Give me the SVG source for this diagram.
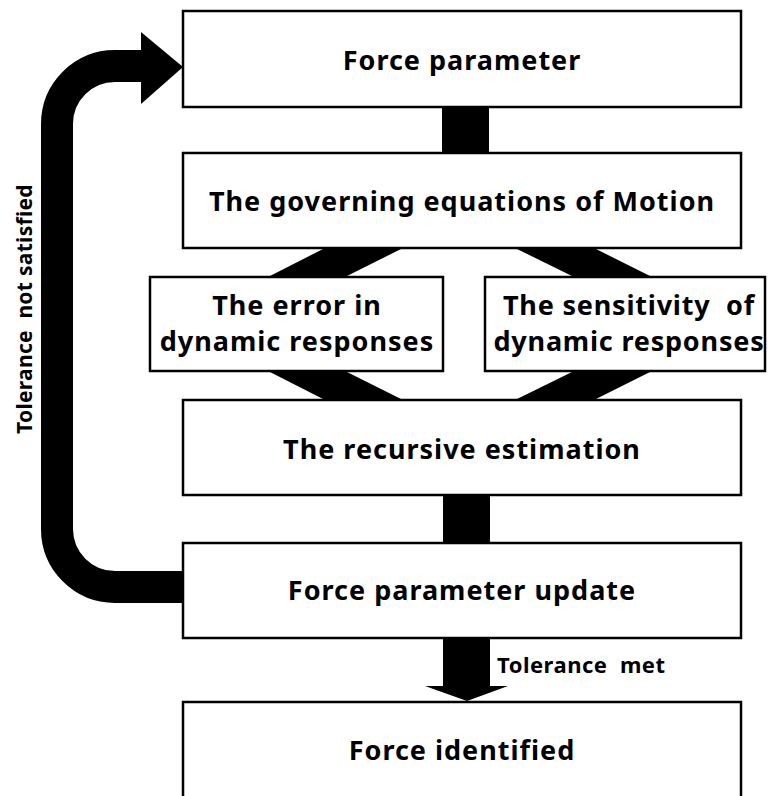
<svg xmlns="http://www.w3.org/2000/svg" width="770" height="796" viewBox="0 0 770 796">
<style>
.box{fill:#fff;stroke:#000;stroke-width:2.5}
.t{font-family:"Noto Sans","Open Sans","Liberation Sans",sans-serif;font-weight:bold;font-size:27px;letter-spacing:1px;fill:#000;text-anchor:middle}
.s{font-family:"Noto Sans","Open Sans","Liberation Sans",sans-serif;font-weight:bold;font-size:22px;letter-spacing:0.5px;fill:#000}
.v{font-family:"Noto Sans","Open Sans","Liberation Sans",sans-serif;font-weight:bold;font-size:21px;letter-spacing:0.3px;fill:#000;text-anchor:middle}
.band{fill:#000}
</style>
<rect width="770" height="796" fill="#fff"/>
<g id="connectors">
<rect class="band" x="442" y="106" width="47" height="48"/>
<polygon class="band" points="325,248 403,248 345,277 268,277"/>
<polygon class="band" points="515,248 594,248 652,277 574,277"/>
<polygon class="band" points="268,371 345,371 403,400 325,400"/>
<polygon class="band" points="574,371 652,371 594,400 515,400"/>
<rect class="band" x="443" y="494" width="47" height="50"/>
<polygon class="band" points="443,637 490,637 490,686 508,686 467,701 425,686 443,686"/>
<path d="M 183 587 H 115 A 58 58 0 0 1 57 529 V 124 A 58 58 0 0 1 115 66 H 143" fill="none" stroke="#000" stroke-width="32"/>
<polygon class="band" points="141,32 183,67 141,104"/>
<text class="s" x="497" y="673">Tolerance&#160; met</text>
<text class="v" transform="translate(32,309) rotate(-90)">Tolerance&#160; not satisfied</text>
</g>
<g id="n1"><rect class="box" x="183" y="11" width="558" height="96"/><text class="t" x="462" y="70">Force parameter</text></g>
<g id="n2"><rect class="box" x="183" y="153" width="558" height="95"/><text class="t" x="462" y="211">The governing equations of Motion</text></g>
<g id="n3"><rect class="box" x="150" y="277" width="293" height="94"/><text class="t" x="297" y="315">The error in</text><text class="t" x="297" y="351">dynamic responses</text></g>
<g id="n4"><rect class="box" x="485" y="277" width="280" height="94"/><text class="t" x="629" y="315" style="letter-spacing:0.8px">The sensitivity&#160; of</text><text class="t" x="629" y="351" style="letter-spacing:0.8px">dynamic responses</text></g>
<g id="n5"><rect class="box" x="183" y="400" width="558" height="95"/><text class="t" x="462" y="459">The recursive estimation</text></g>
<g id="n6"><rect class="box" x="183" y="543" width="558" height="95"/><text class="t" x="462" y="600">Force parameter update</text></g>
<g id="n7"><rect class="box" x="183" y="702" width="558" height="110"/><text class="t" x="462" y="760">Force identified</text></g>
</svg>
